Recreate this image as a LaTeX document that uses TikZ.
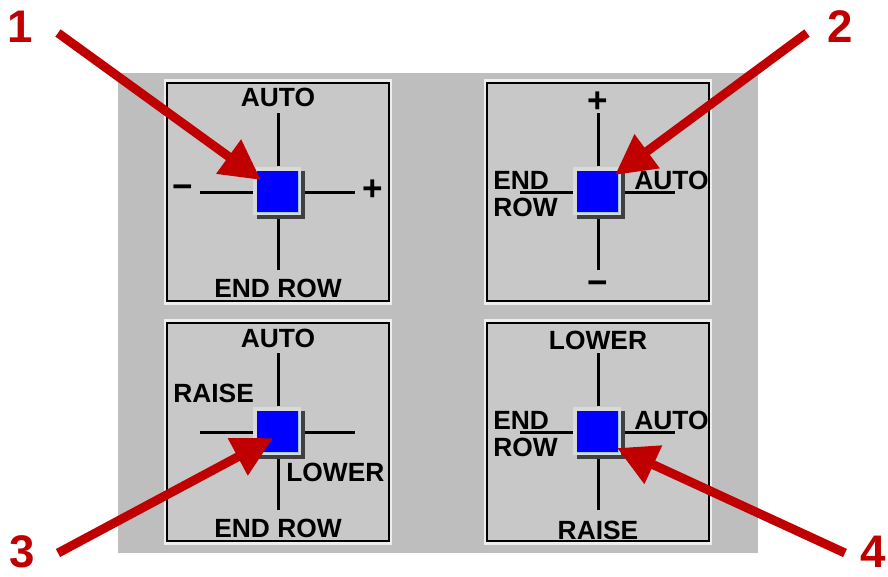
\documentclass[tikz,border=0pt]{standalone}
\usepackage{fontspec}
\setmainfont{Liberation Sans}
\usetikzlibrary{arrows.meta,positioning,calc}
\definecolor{backgray}{HTML}{BEBEBE}
\definecolor{panelgray}{HTML}{C8C8C8}
\definecolor{panellight}{HTML}{EEEEEE}
\definecolor{btnface}{HTML}{DADADA}
\definecolor{btnshadow}{HTML}{404040}
\definecolor{btnblue}{HTML}{0000FF}
\definecolor{btnrim}{HTML}{9CC8FF}
\definecolor{callred}{HTML}{C00000}
\tikzset{
  >=Stealth,
  panel/.style={rectangle,draw=black,line width=0.04cm,fill=panelgray,
                minimum width=4.44cm,minimum height=4.38cm,
                preaction={draw=panellight,line width=0.14cm}},
  crossline/.style={line width=0.06cm,black},
  button/.style={rectangle,minimum size=0.96cm,inner sep=0pt,fill=btnface,
                 preaction={fill=btnshadow,
                   transform canvas={shift={(0.08cm,-0.08cm)}}},
                 path picture={
                   \fill[btnblue]
                     ([shift={(0.07cm,-0.07cm)}]path picture bounding box.north west)
                     rectangle
                     ([shift={(-0.04cm,0.04cm)}]path picture bounding box.south east);
                   \draw[btnrim,line width=0.03cm]
                     ([shift={(-0.055cm,-0.08cm)}]path picture bounding box.north east)
                     -- ([shift={(-0.055cm,0.055cm)}]path picture bounding box.south east)
                     -- ([shift={(0.08cm,0.055cm)}]path picture bounding box.south west);
                 }},
  lbl/.style={font=\fontsize{15}{17}\selectfont\bfseries,inner sep=0pt},
  sign/.style={font=\fontsize{20}{22}\selectfont\bfseries,inner sep=0pt},
  callout/.style={-{Triangle[length=0.8cm,width=0.8cm]},line width=0.18cm,callred},
  num/.style={font=\fontsize{26}{28}\selectfont\bfseries,text=callred,inner sep=0pt},
}
\begin{document}
\begin{tikzpicture}[x=0.02cm,y=-0.02cm]
  \useasboundingbox (0,0) rectangle (888,576);
  \fill[backgray] (118,73) rectangle (758,553);

  % the four panels
  \node[panel] (p1) at (278,192) {};
  \node[panel] (p2) at (598,192) {};
  \node[panel] (p3) at (278,432) {};
  \node[panel] (p4) at (598,432) {};

  % crosses and buttons
  \foreach \p in {1,2,3,4} {
    \draw[crossline] ($(p\p)+(0,-79)$) -- ($(p\p)+(0,-26)$);
    \draw[crossline] ($(p\p)+(0,26)$)  -- ($(p\p)+(0,78)$);
    \draw[crossline] ($(p\p)+(-78,0)$) -- ($(p\p)+(-25,0)$);
    \draw[crossline] ($(p\p)+(26,0)$)  -- ($(p\p)+(77,0)$);
    \node[button] (b\p) at ($(p\p)+(-1,-1)$) {};
  }

  % panel 1
  \node[lbl]  (p1n) at ($(p1)+(0,-95)$) {AUTO};
  \node[lbl]  (p1s) at ($(p1)+(0,96)$)  {END ROW};
  \node[sign] (p1w) at ($(p1)+(-95,0)$) {−};
  \node[sign] (p1e) at ($(p1)+(95,-2)$) {+};

  % panel 2
  \node[sign]           (p2n)  at ($(p2)+(0,-90)$)   {+};
  \node[sign]           (p2s)  at ($(p2)+(0,96)$)    {−};
  \node[lbl,anchor=west] (p2w)  at ($(p2)+(-105,-12)$) {END};
  \node[lbl,anchor=west] (p2w2) at ($(p2)+(-105,15)$)  {ROW};
  \node[lbl,anchor=west] (p2e)  at ($(p2)+(36,-12)$)   {AUTO};

  % panel 3
  \node[lbl]             (p3n) at ($(p3)+(0,-94)$)   {AUTO};
  \node[lbl,anchor=west] (p3w) at ($(p3)+(-105,-39)$) {RAISE};
  \node[lbl,anchor=west] (p3e) at ($(p3)+(8,40)$)    {LOWER};
  \node[lbl]             (p3s) at ($(p3)+(0,96)$)    {END ROW};

  % panel 4
  \node[lbl]             (p4n)  at ($(p4)+(0,-92)$)   {LOWER};
  \node[lbl,anchor=west] (p4w)  at ($(p4)+(-105,-12)$) {END};
  \node[lbl,anchor=west] (p4w2) at ($(p4)+(-105,15)$)  {ROW};
  \node[lbl,anchor=west] (p4e)  at ($(p4)+(36,-12)$)   {AUTO};
  \node[lbl]             (p4s)  at ($(p4)+(0,98)$)    {RAISE};

  % callout numbers and arrows
  \node[num] (n1) at (20,27)  {1};
  \node[num] (n2) at (840,27) {2};
  \node[num] (n3) at (22,552) {3};
  \node[num] (n4) at (873,552) {4};

  \coordinate (t1) at (58,33);
  \coordinate (t2) at (807,33);
  \coordinate (t3) at (58,553);
  \coordinate (t4) at (845,553);

  \draw[callout] (t1) -- ($(b1)+(-16,-11)$);
  \draw[callout] (t2) -- ($(b2)+(18,-16)$);
  \draw[callout] (t3) -- ($(b3)+(-4,7)$);
  \draw[callout] (t4) -- ($(b4)+(20,17)$);
\end{tikzpicture}
\end{document}
